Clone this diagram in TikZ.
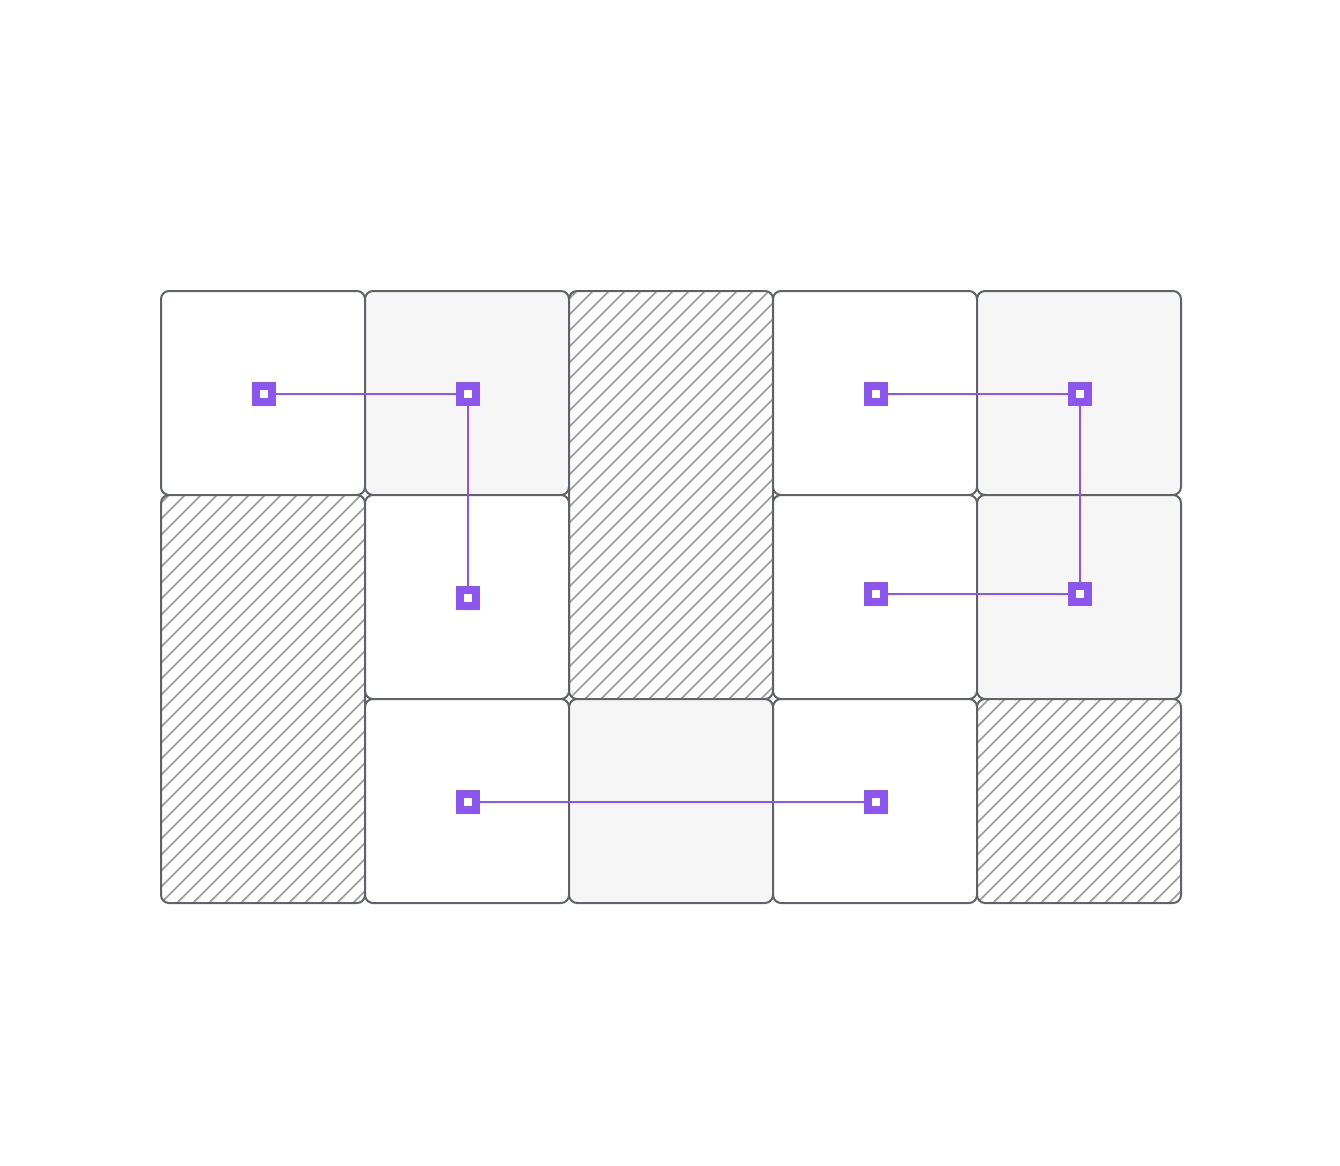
\documentclass[tikz,border=0pt]{standalone}
\usetikzlibrary{calc}
\definecolor{edgegray}{RGB}{95,99,104}
\definecolor{softfill}{RGB}{246,246,246}
\definecolor{hatchgray}{RGB}{155,155,155}
\definecolor{violet}{RGB}{139,85,240}
\tikzset{
  cell/.style={draw=edgegray, line width=2pt, rounded corners=8pt, rectangle,
    minimum width=204pt, minimum height=204pt, inner sep=0pt, outer sep=0pt, fill=white},
  plaincell/.style={cell, fill=white},
  graycell/.style={cell, fill=softfill},
  hatchcell/.style={cell, fill=white, path picture={
      \foreach \k in {-30,...,16}
        \draw[hatchgray, line width=1.5pt]
          ([xshift=\k*16pt]path picture bounding box.south west) -- ++(520pt,520pt);
    }},
  marker/.style={rectangle, draw=violet, fill=white, line width=8pt,
    minimum size=16pt, inner sep=0pt, outer sep=4pt},
  link/.style={draw=violet, line width=2pt}
}
\begin{document}
\begin{tikzpicture}[x=1pt,y=-1pt]
\useasboundingbox[fill=white] (0,0) rectangle (1340,1166);
% row 0
\node[plaincell] (c00) at (263,393) {};
\node[graycell]  (c10) at (467,393) {};
\node[hatchcell, minimum height=408pt] (c20) at (671,495) {};
\node[plaincell] (c30) at (875,393) {};
\node[graycell]  (c40) at (1079,393) {};
% row 1
\node[hatchcell, minimum height=408pt] (c01) at (263,699) {};
\node[plaincell] (c11) at (467,597) {};
\node[plaincell] (c31) at (875,597) {};
\node[graycell]  (c41) at (1079,597) {};
% row 2
\node[plaincell] (c12) at (467,801) {};
\node[graycell]  (c22) at (671,801) {};
\node[plaincell] (c32) at (875,801) {};
\node[hatchcell] (c42) at (1079,801) {};
% markers
\node[marker] (m1) at (264,394) {};
\node[marker] (m2) at (468,394) {};
\node[marker] (m3) at (468,598) {};
\node[marker] (m4) at (876,394) {};
\node[marker] (m5) at (1080,394) {};
\node[marker] (m6) at (876,594) {};
\node[marker] (m7) at (1080,594) {};
\node[marker] (m8) at (468,802) {};
\node[marker] (m9) at (876,802) {};
% connectors
\draw[link] (m1) -- (m2);
\draw[link] (m2) -- (m3);
\draw[link] (m4) -- (m5);
\draw[link] (m5) -- (m7);
\draw[link] (m6) -- (m7);
\draw[link] (m8) -- (m9);
\end{tikzpicture}
\end{document}
